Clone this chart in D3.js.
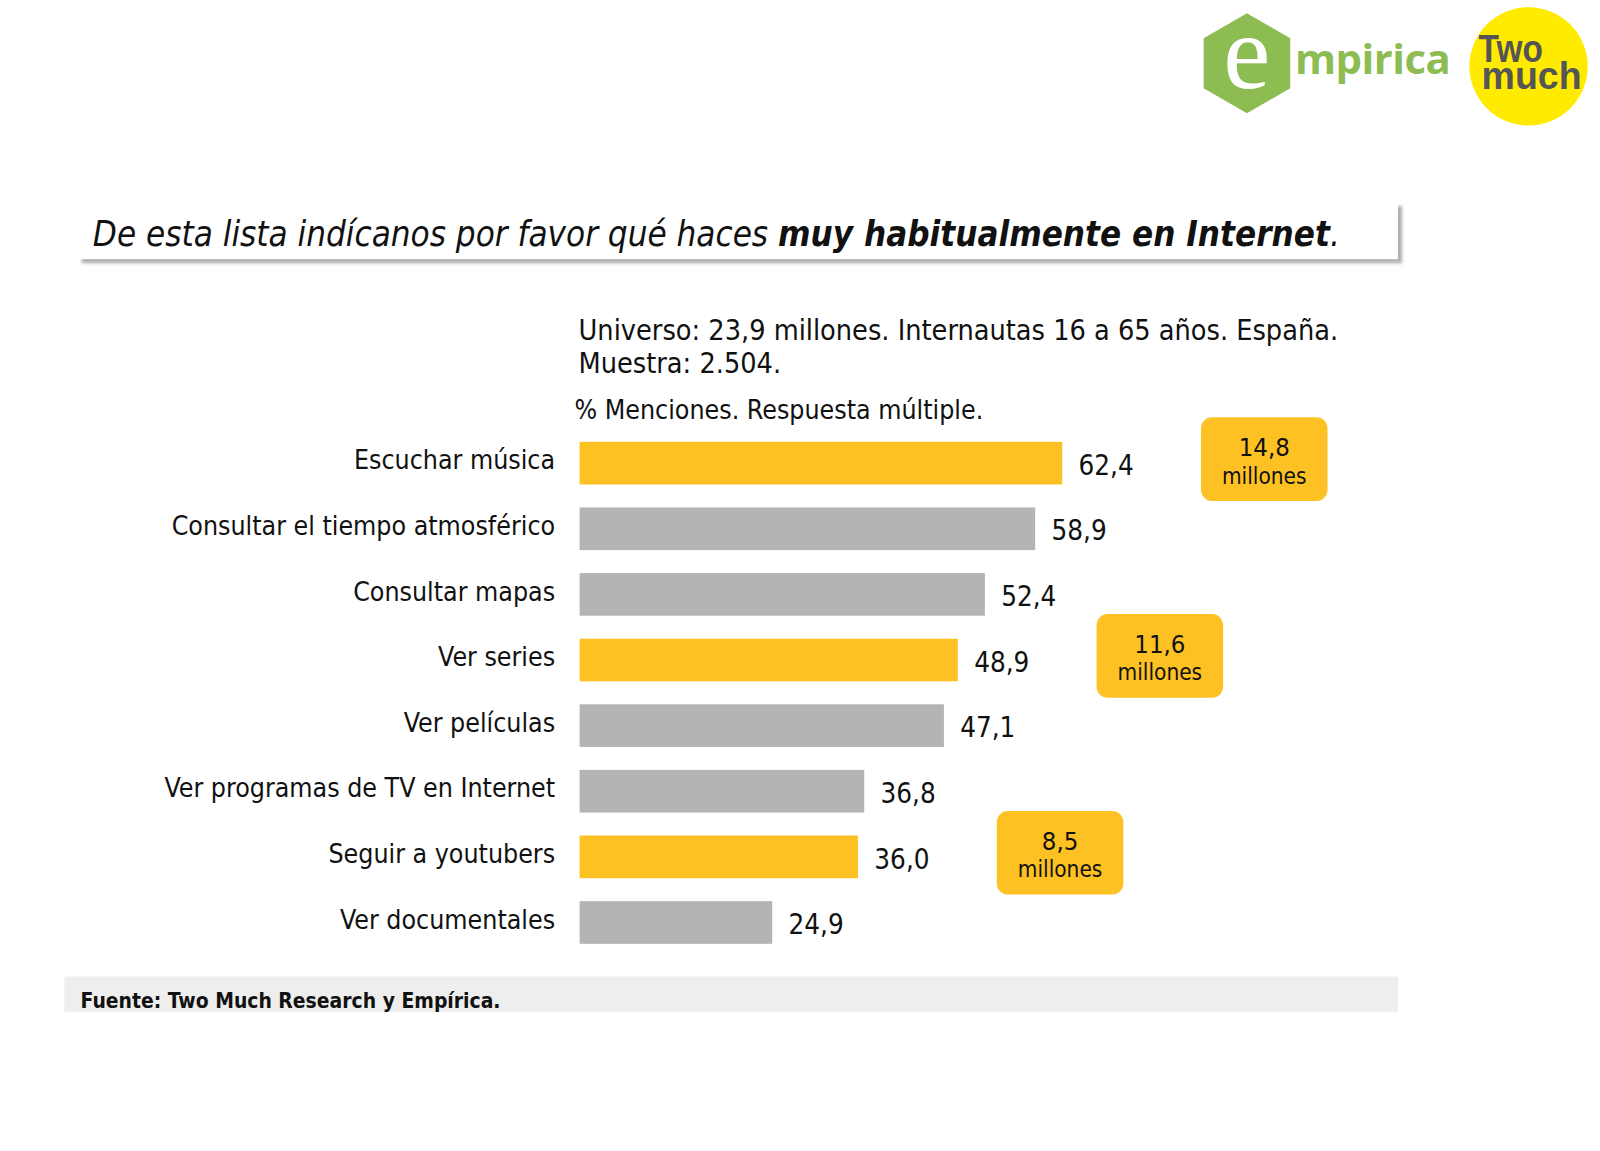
<!DOCTYPE html>
<html>
<head>
<meta charset="utf-8">
<script src="https://cdn.jsdelivr.net/npm/d3@7"></script>
<style>
  html, body { margin: 0; padding: 0; background: #fff; }
  svg { display: block; font-family: "DejaVu Sans Condensed", "DejaVu Sans", sans-serif; }
</style>
</head>
<body>
<div id="viz"></div>
<script>
const categories = [
  'Escuchar música',
  'Consultar el tiempo atmosférico',
  'Consultar mapas',
  'Ver series',
  'Ver películas',
  'Ver programas de TV en Internet',
  'Seguir a youtubers',
  'Ver documentales'
];
const values = [62.4, 58.9, 52.4, 48.9, 47.1, 36.8, 36.0, 24.9];
const highlighted = ['Escuchar música', 'Ver series', 'Seguir a youtubers'];
const calloutCategories = ['Escuchar música', 'Ver series', 'Seguir a youtubers'];
const calloutValues = ['14,8', '11,6', '8,5'];
const calloutUnit = 'millones';

const titleParts = [
  { text: 'De esta lista indícanos por favor qué haces ', bold: false },
  { text: 'muy habitualmente en Internet', bold: true },
  { text: '.', bold: false }
];
const noteLines = [
  'Universo: 23,9 millones. Internautas 16 a 65 años. España.',
  'Muestra: 2.504.'
];
const unitNote = '% Menciones. Respuesta múltiple.';
const source = 'Fuente: Two Much Research y Empírica.';

const fmt = v => d3.format('.1f')(v).replace('.', ',');

// layout is laid out on a 1568-wide canvas and scaled up to the window
const VW = 1568, VH = 1128;
const YELLOW = '#fec123', GREY = '#b4b4b4';

const svg = d3.select('#viz').append('svg')
  .attr('width', 1600).attr('height', 1151)
  .attr('viewBox', `0 0 ${VW} ${VH}`);

// logos
const logo = svg.append('g');
const hex = d3.range(6).map(i => {
  const a = Math.PI / 3 * i + Math.PI / 6;
  return [1222 + 49 * Math.cos(a), 62 + 49 * Math.sin(a)];
});
logo.append('path')
  .attr('d', d3.line().curve(d3.curveLinearClosed)(hex))
  .attr('fill', '#8dbd52');
logo.append('text')
  .attr('x', 1222).attr('y', 86)
  .attr('text-anchor', 'middle')
  .attr('font-family', '"Liberation Serif", serif')
  .attr('font-size', 104)
  .attr('fill', '#fff')
  .text('e');
logo.append('text')
  .attr('x', 1269).attr('y', 73)
  .attr('font-family', '"Open Sans", sans-serif')
  .attr('font-weight', 700)
  .attr('font-size', 41)
  .attr('letter-spacing', -0.5)
  .attr('fill', '#8dbd52')
  .text('mpirica');
logo.append('circle')
  .attr('cx', 1498).attr('cy', 65).attr('r', 58)
  .attr('fill', '#ffeb00');
[['Two', 1449, 61, 63], ['much', 1452, 87, 98]].forEach(([t, tx, ty, tw]) => {
  logo.append('text')
    .attr('x', tx).attr('y', ty)
    .attr('font-family', '"Liberation Sans", sans-serif')
    .attr('font-weight', 700)
    .attr('font-size', 38)
    .attr('textLength', tw)
    .attr('lengthAdjust', 'spacingAndGlyphs')
    .attr('fill', '#555')
    .text(t);
});

// title box with shadow
const shadow = svg.append('defs').append('filter')
  .attr('id', 'blur').attr('x', '-5%').attr('y', '-20%')
  .attr('width', '110%').attr('height', '140%');
shadow.append('feGaussianBlur').attr('stdDeviation', 1.5);
svg.append('rect')
  .attr('x', 80).attr('y', 202).attr('width', 1294).attr('height', 56)
  .attr('fill', '#b0b0b0')
  .attr('filter', 'url(#blur)');
svg.append('rect')
  .attr('x', 76).attr('y', 198).attr('width', 1294).attr('height', 56)
  .attr('fill', '#fff');
const title = svg.append('text')
  .attr('x', 91).attr('y', 241)
  .attr('font-style', 'italic')
  .attr('font-size', 34)
  .attr('fill', '#111');
titleParts.forEach(p => {
  title.append('tspan')
    .attr('font-weight', p.bold ? 700 : 400)
    .text(p.text);
});

// notes
noteLines.forEach((t, i) => {
  svg.append('text')
    .attr('x', 567).attr('y', 333 + i * 33)
    .attr('font-size', 28)
    .attr('fill', '#111')
    .text(t);
});
svg.append('text')
  .attr('x', 563).attr('y', 411)
  .attr('font-size', 26)
  .attr('fill', '#111')
  .text(unitNote);

// scales
const x = d3.scaleLinear().domain([0, 100]).range([568, 1326]);
const y = d3.scaleBand().domain(categories)
  .range([421.75, 936.2])
  .paddingInner(0.35).paddingOuter(0.175);

const data = categories.map((c, i) => ({ cat: c, value: values[i] }));

svg.append('g').selectAll('rect').data(data).join('rect')
  .attr('x', x(0))
  .attr('y', d => y(d.cat))
  .attr('width', d => x(d.value) - x(0))
  .attr('height', y.bandwidth())
  .attr('fill', d => highlighted.includes(d.cat) ? YELLOW : GREY);

svg.append('g').selectAll('text').data(data).join('text')
  .attr('x', 544)
  .attr('y', d => y(d.cat) + y.bandwidth() / 2 - 3)
  .attr('dy', '0.35em')
  .attr('text-anchor', 'end')
  .attr('font-size', 26)
  .attr('fill', '#111')
  .text(d => d.cat);

svg.append('g').selectAll('text').data(data).join('text')
  .attr('x', d => x(d.value) + 16)
  .attr('y', d => y(d.cat) + y.bandwidth() / 2 + 2)
  .attr('dy', '0.35em')
  .attr('font-size', 27)
  .attr('fill', '#111')
  .text(d => fmt(d.value));

// callouts
const callouts = calloutCategories.map((c, i) => ({
  cat: c, label: calloutValues[i], value: values[categories.indexOf(c)]
}));
const cg = svg.append('g').selectAll('g').data(callouts).join('g')
  .attr('transform', d => `translate(${x(d.value) + 136},${y(d.cat) + y.bandwidth() / 2 - 4})`);
cg.append('rect')
  .attr('x', 0).attr('y', -41)
  .attr('width', 124).attr('height', 82)
  .attr('rx', 11)
  .attr('fill', YELLOW);
cg.append('text')
  .attr('x', 62).attr('y', -3)
  .attr('text-anchor', 'middle')
  .attr('font-size', 25)
  .attr('fill', '#111')
  .text(d => d.label);
cg.append('text')
  .attr('x', 62).attr('y', 24)
  .attr('text-anchor', 'middle')
  .attr('font-size', 22)
  .attr('fill', '#111')
  .text(calloutUnit);

// source band
svg.append('rect')
  .attr('x', 63).attr('y', 957).attr('width', 1307).attr('height', 35)
  .attr('fill', '#eeeeee');
svg.append('text')
  .attr('x', 79).attr('y', 988)
  .attr('font-size', 20.5)
  .attr('font-weight', 700)
  .attr('fill', '#111')
  .text(source);
</script>
</body>
</html>
